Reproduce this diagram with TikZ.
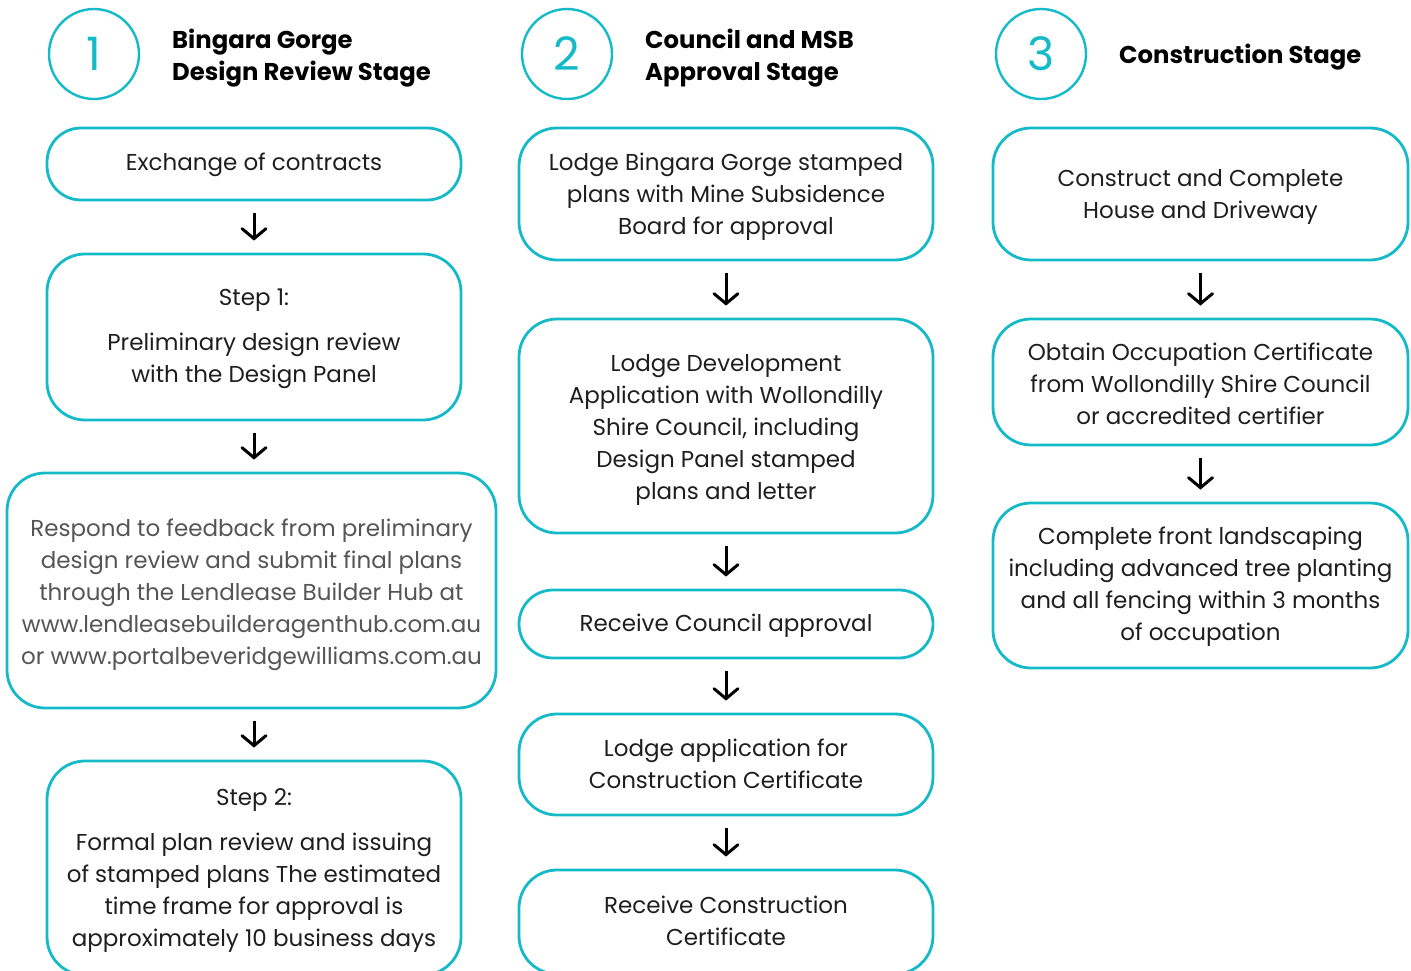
\documentclass[tikz,border=0pt]{standalone}
\usepackage{fontspec}
\setmainfont{Poppins}
\usetikzlibrary{arrows.meta}
\definecolor{cyanline}{RGB}{20,186,200}
\definecolor{txt}{RGB}{30,30,30}
\definecolor{graytxt}{RGB}{85,85,85}
% text block centred on the node centre, moved down by #1
\newcommand\BT[2]{\raisebox{\dimexpr-8.75pt-#1\relax}[0pt][0pt]{\begin{tabular}{@{}c@{}}#2\end{tabular}}}
\tikzset{
  box/.style={draw=cyanline, line width=2.8pt, rounded corners=38pt, inner sep=0pt,
    text=txt, font=\fontsize{23}{32}\selectfont},
  pill/.style={box, rounded corners=34pt},
  numcircle/.style={draw=cyanline, line width=2.4pt, circle, minimum size=90pt, inner sep=0pt,
    text=cyanline, font=\fontsize{46}{46}\selectfont},
  heading/.style={anchor=west, align=left, inner sep=0pt, text=black,
    font=\fontsize{24.3}{32}\selectfont\bfseries},
  arr/.style={draw=black, line width=3pt, -{Straight Barb[length=10pt,width=24pt,line cap=round]},
    shorten <=12pt, shorten >=12pt}
}
\begin{document}
\begin{tikzpicture}[x=1pt,y=-1pt]
\useasboundingbox (0,0) rectangle (1411,971);
% headers
\node[numcircle] (c1) at (94,54) {1};
\node[numcircle] (c2) at (567,54) {2};
\node[numcircle] (c3) at (1041,54) {3};
\node[heading] (h1) at (172,58) {Bingara Gorge\\Design Review Stage};
\node[heading] (h2) at (645,58) {Council and MSB\\Approval Stage};
\node[heading] (h3) at (1119,57) {Construction Stage};
% column 1
\node[pill, minimum width=414pt, minimum height=72pt] (ex) at (254,164)
  {\BT{-2pt}{Exchange of contracts}};
\node[box, minimum width=414pt, minimum height=166pt] (s1) at (254,337)
  {\BT{-1.5pt}{Step 1:\\[13pt]Preliminary design review\\with the Design Panel}};
\node[box, minimum width=489pt, minimum height=235pt, text=graytxt] (resp) at (251.5,590.5)
  {\BT{1.5pt}{Respond to feedback from preliminary\\design review and submit final plans\\through the Lendlease Builder Hub at\\www.lendleasebuilderagenthub.com.au\\or www.portalbeveridgewilliams.com.au}};
\node[box, minimum width=414pt, minimum height=214pt] (s2) at (254,868)
  {\BT{-0.5pt}{Step 2:\\[13pt]Formal plan review and issuing\\of stamped plans The estimated\\time frame for approval is\\approximately 10 business days}};
% column 2
\node[box, minimum width=414pt, minimum height=132pt] (lb) at (726,194)
  {\BT{0pt}{Lodge Bingara Gorge stamped\\plans with Mine Subsidence\\Board for approval}};
\node[box, minimum width=414pt, minimum height=214pt] (ld) at (726,426)
  {\BT{1pt}{Lodge Development\\Application with Wollondilly\\Shire Council, including\\Design Panel stamped\\plans and letter}};
\node[pill, minimum width=414pt, minimum height=68pt] (rc) at (726,624)
  {\BT{-1pt}{Receive Council approval}};
\node[box, minimum width=414pt, minimum height=101pt] (la) at (726,764.5)
  {\BT{-0.5pt}{Lodge application for\\Construction Certificate}};
\node[box, minimum width=414pt, minimum height=104pt] (rcc) at (726,922)
  {\BT{-1pt}{Receive Construction\\Certificate}};
% column 3
\node[box, minimum width=415pt, minimum height=132pt] (cc) at (1200.5,194)
  {\BT{0pt}{Construct and Complete\\House and Driveway}};
\node[box, minimum width=415pt, minimum height=126pt] (oc) at (1200.5,382)
  {\BT{2pt}{Obtain Occupation Certificate\\from Wollondilly Shire Council\\or accredited certifier}};
\node[box, minimum width=415pt, minimum height=165pt] (cf) at (1200.5,585.5)
  {\BT{-1.5pt}{Complete front landscaping\\including advanced tree planting\\and all fencing within 3 months\\of occupation}};
% connectors
\draw[arr] (ex) -- (s1);
\draw[arr] (s1.south) -- (s1.south |- resp.north);
\draw[arr] (s1.south |- resp.south) -- (s2.north);
\draw[arr] (lb) -- (ld);
\draw[arr] (ld) -- (rc);
\draw[arr] (rc) -- (la);
\draw[arr] (la) -- (rcc);
\draw[arr] (cc) -- (oc);
\draw[arr] (oc) -- (cf);
\end{tikzpicture}
\end{document}
